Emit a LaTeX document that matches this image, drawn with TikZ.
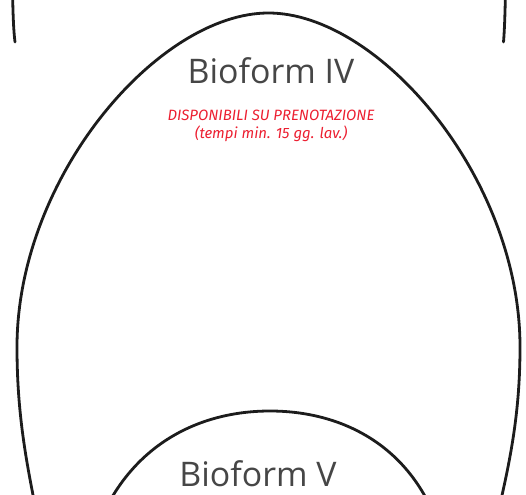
\documentclass[tikz,border=0pt]{standalone}
\usepackage{fontspec}
\setmainfont{Open Sans}
\newfontfamily\redfont{Fira Sans}
\definecolor{inkc}{RGB}{28,28,28}
\definecolor{labc}{RGB}{70,70,70}
\definecolor{redc}{RGB}{236,30,48}
\begin{document}
\begin{tikzpicture}[x=1bp,y=-1bp,
  outline/.style={draw=inkc,line width=2.8bp,line cap=round},
  title/.style={text=labc,font=\fontsize{34}{40}\selectfont,inner sep=0pt},
  note/.style={text=redc,font=\redfont\itshape\fontsize{15}{18}\selectfont,align=center,inner sep=0pt}]
\useasboundingbox (0,0) rectangle (526,495);
\clip (0,0) rectangle (526,495);
% fragments of shapes above
\draw[outline] (12.5,-10) .. controls (13,15) and (13.5,30) .. (15,42);
\draw[outline] (505.5,-10) .. controls (505,15) and (504.5,30) .. (503.5,42);
% Bioform IV outline
\coordinate (top) at (268.5,13);
\coordinate (lw) at (17,347);
\coordinate (rw) at (520,347);
\coordinate (lb) at (40,530);
\coordinate (rb) at (494,530);
\draw[outline] (lb) .. controls (28,470) and (17,420) .. (lw)
  .. controls (17,177) and (158.5,13) .. (top)
  .. controls (378.5,13) and (520,177) .. (rw)
  .. controls (520,420) and (508,470) .. (rb);
% Bioform V outline
\coordinate (vtop) at (270,411);
\coordinate (vl) at (105,510);
\coordinate (vr) at (432,510);
\draw[outline] (vl) .. controls (140,440) and (204,411) .. (vtop)
  .. controls (336,411) and (400,440) .. (vr);
\node[title] (iv) at (271,71) {Bioform IV};
\node[note] (n) at (271,126) {DISPONIBILI SU PRENOTAZIONE\\(tempi min. 15 gg. lav.)};
\node[title] (v) at (258,474) {Bioform V};
\end{tikzpicture}
\end{document}
